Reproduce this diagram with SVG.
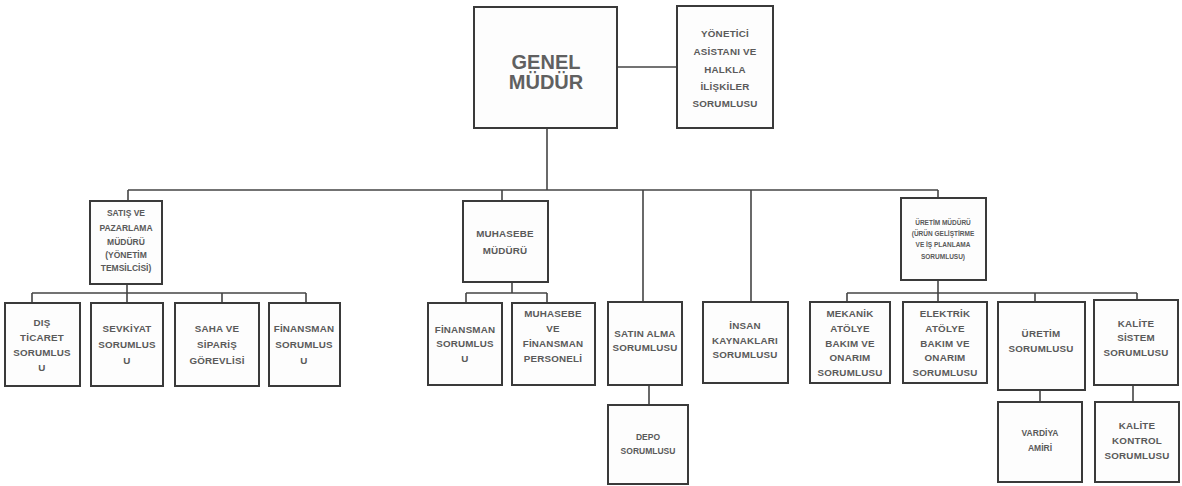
<svg xmlns="http://www.w3.org/2000/svg" width="1182" height="486" viewBox="0 0 1182 486">
<style>
.bg{fill:#ffffff}
.box{fill:#fdfdfd;stroke:#3a3a3a;stroke-width:2}
.ln{fill:none;stroke:#444;stroke-width:1.6}
text{font-family:"Liberation Sans",Arial,sans-serif;font-weight:bold;fill:#5a5a5a;text-anchor:middle;dominant-baseline:central}
.t{font-size:9.8px;letter-spacing:0.2px}
.s{font-size:8.5px}
.xs{font-size:6.5px}
.big{font-size:20px;fill:#606060}
</style>
<rect class="bg" x="0" y="0" width="1182" height="486"/>
<g id="connectors">
<path class="ln" d="M617 67H677"/>
<path class="ln" d="M547 128V190"/>
<path class="ln" d="M128 190H938"/>
<path class="ln" d="M128 190V201"/>
<path class="ln" d="M502 190V201"/>
<path class="ln" d="M643 190V302"/>
<path class="ln" d="M751 190V302"/>
<path class="ln" d="M938 190V198"/>
<path class="ln" d="M127 284V293"/>
<path class="ln" d="M32 293H306"/>
<path class="ln" d="M32 293V303M127 293V303M222 293V303M306 293V303"/>
<path class="ln" d="M512 282V293"/>
<path class="ln" d="M466 293H547"/>
<path class="ln" d="M466 293V303M547 293V303"/>
<path class="ln" d="M649 385V405"/>
<path class="ln" d="M938 280V293"/>
<path class="ln" d="M847 293H1137"/>
<path class="ln" d="M847 293V302M938 293V302M1035 293V302M1137 293V300"/>
<path class="ln" d="M1040 390V402"/>
<path class="ln" d="M1133 385V402"/>
</g>
<g id="genel-mudur">
<rect class="box" x="474" y="7" width="143" height="121"/>
<text class="big" x="546" y="62">GENEL</text>
<text class="big" x="546" y="82">MÜDÜR</text>
</g>
<g id="yonetici-asistani">
<rect class="box" x="677" y="6" width="96" height="122"/>
<text class="t" x="725" y="33">YÖNETİCİ</text>
<text class="t" x="725" y="51">ASİSTANI VE</text>
<text class="t" x="725" y="69">HALKLA</text>
<text class="t" x="725" y="86">İLİŞKİLER</text>
<text class="t" x="725" y="103">SORUMLUSU</text>
</g>
<g id="satis-pazarlama">
<rect class="box" x="90" y="201" width="72" height="83"/>
<text class="s" x="126" y="213">SATIŞ VE</text>
<text class="s" x="126" y="228">PAZARLAMA</text>
<text class="s" x="126" y="242">MÜDÜRÜ</text>
<text class="s" x="126" y="255">(YÖNETİM</text>
<text class="s" x="126" y="268">TEMSİLCİSİ)</text>
</g>
<g id="muhasebe-muduru">
<rect class="box" x="463" y="201" width="85" height="81"/>
<text class="t" x="505" y="233">MUHASEBE</text>
<text class="t" x="505" y="250">MÜDÜRÜ</text>
</g>
<g id="uretim-muduru">
<rect class="box" x="901" y="198" width="85" height="82"/>
<text class="xs" x="943" y="222">ÜRETİM MÜDÜRÜ</text>
<text class="xs" x="943" y="233">(ÜRÜN GELİŞTİRME</text>
<text class="xs" x="943" y="244">VE İŞ PLANLAMA</text>
<text class="xs" x="943" y="256">SORUMLUSU)</text>
</g>
<g id="dis-ticaret">
<rect class="box" x="5" y="303" width="75" height="83"/>
<text class="t" x="42" y="322">DIŞ</text>
<text class="t" x="42" y="337">TİCARET</text>
<text class="t" x="42" y="352">SORUMLUS</text>
<text class="t" x="42" y="367">U</text>
</g>
<g id="sevkiyat">
<rect class="box" x="91" y="303" width="72" height="83"/>
<text class="t" x="127" y="328">SEVKİYAT</text>
<text class="t" x="127" y="344">SORUMLUS</text>
<text class="t" x="127" y="360">U</text>
</g>
<g id="saha-siparis">
<rect class="box" x="175" y="303" width="84" height="83"/>
<text class="t" x="217" y="328">SAHA VE</text>
<text class="t" x="217" y="344">SİPARİŞ</text>
<text class="t" x="217" y="360">GÖREVLİSİ</text>
</g>
<g id="finansman-1">
<rect class="box" x="269" y="303" width="71" height="83"/>
<text class="t" x="304" y="328">FİNANSMAN</text>
<text class="t" x="304" y="344">SORUMLUS</text>
<text class="t" x="304" y="360">U</text>
</g>
<g id="finansman-2">
<rect class="box" x="428" y="303" width="74" height="82"/>
<text class="t" x="465" y="329">FİNANSMAN</text>
<text class="t" x="465" y="343">SORUMLUS</text>
<text class="t" x="465" y="358">U</text>
</g>
<g id="muhasebe-personeli">
<rect class="box" x="512" y="303" width="83" height="82"/>
<text class="t" x="553" y="313">MUHASEBE</text>
<text class="t" x="553" y="328">VE</text>
<text class="t" x="553" y="343">FİNANSMAN</text>
<text class="t" x="553" y="358">PERSONELİ</text>
</g>
<g id="satin-alma">
<rect class="box" x="608" y="302" width="74" height="83"/>
<text class="t" x="645" y="333">SATIN ALMA</text>
<text class="t" x="645" y="347">SORUMLUSU</text>
</g>
<g id="insan-kaynaklari">
<rect class="box" x="703" y="302" width="85" height="81"/>
<text class="t" x="745" y="325">İNSAN</text>
<text class="t" x="745" y="340">KAYNAKLARI</text>
<text class="t" x="745" y="354">SORUMLUSU</text>
</g>
<g id="depo">
<rect class="box" x="608" y="405" width="80" height="79"/>
<text class="s" x="648" y="437">DEPO</text>
<text class="s" x="648" y="451">SORUMLUSU</text>
</g>
<g id="mekanik">
<rect class="box" x="810" y="302" width="80" height="81"/>
<text class="t" x="850" y="313">MEKANİK</text>
<text class="t" x="850" y="328">ATÖLYE</text>
<text class="t" x="850" y="343">BAKIM VE</text>
<text class="t" x="850" y="357">ONARIM</text>
<text class="t" x="850" y="372">SORUMLUSU</text>
</g>
<g id="elektrik">
<rect class="box" x="903" y="302" width="84" height="81"/>
<text class="t" x="945" y="313">ELEKTRİK</text>
<text class="t" x="945" y="328">ATÖLYE</text>
<text class="t" x="945" y="343">BAKIM VE</text>
<text class="t" x="945" y="357">ONARIM</text>
<text class="t" x="945" y="372">SORUMLUSU</text>
</g>
<g id="uretim-sorumlusu">
<rect class="box" x="998" y="302" width="87" height="88"/>
<text class="t" x="1041" y="333">ÜRETİM</text>
<text class="t" x="1041" y="348">SORUMLUSU</text>
</g>
<g id="kalite-sistem">
<rect class="box" x="1094" y="300" width="84" height="85"/>
<text class="t" x="1136" y="323">KALİTE</text>
<text class="t" x="1136" y="337">SİSTEM</text>
<text class="t" x="1136" y="352">SORUMLUSU</text>
</g>
<g id="vardiya-amiri">
<rect class="box" x="998" y="402" width="84" height="80"/>
<text class="s" x="1040" y="433">VARDİYA</text>
<text class="s" x="1040" y="448">AMİRİ</text>
</g>
<g id="kalite-kontrol">
<rect class="box" x="1095" y="402" width="84" height="80"/>
<text class="t" x="1137" y="425">KALİTE</text>
<text class="t" x="1137" y="440">KONTROL</text>
<text class="t" x="1137" y="455">SORUMLUSU</text>
</g>
</svg>
